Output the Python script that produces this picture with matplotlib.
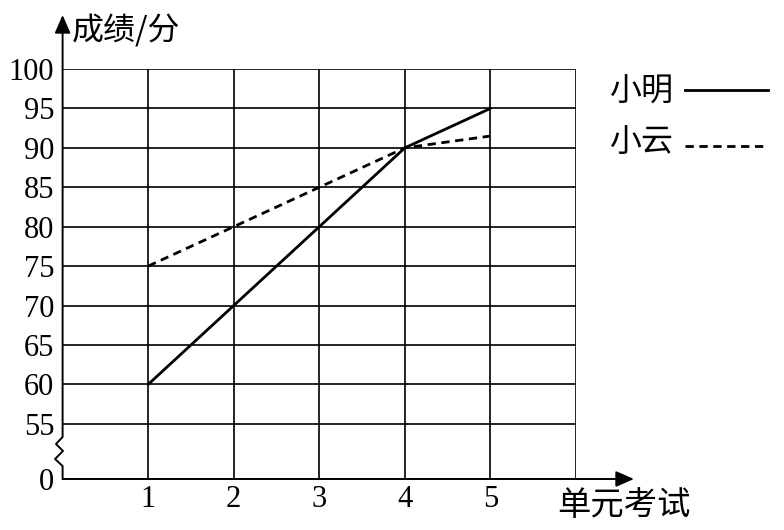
import matplotlib
matplotlib.use("Agg")
import matplotlib.pyplot as plt
from matplotlib.lines import Line2D

# ---- data ----
units = [1, 2, 3, 4, 5]
unit_labels = ["1", "2", "3", "4", "5"]
xiaoming = [60, 70, 80, 90, 95]
xiaoyun = [75, 80, 85, 90, 91.5]
ytick_values = [0, 55, 60, 65, 70, 75, 80, 85, 90, 95, 100]
series_names = ["小明", "小云"]
ylabel_text = "成绩/分"
xlabel_text = "单元考试"

# broken axis: 0 sits a bit below 55
BREAK_BOTTOM = 48.0


def to_plot(v):
    return v if v >= 55 else BREAK_BOTTOM


W, H = 784, 530
fig = plt.figure(figsize=(W / 100, H / 100), dpi=100)
left_px, right_px, bottom_px, top_px = 62.6, 576.0, 479.0, 69.0
ax = fig.add_axes([left_px / W, 1 - bottom_px / H,
                   (right_px - left_px) / W, (bottom_px - top_px) / H])
ax.set_xlim(0, 6)
ax.set_ylim(BREAK_BOTTOM, 100)

serif = ["Liberation Serif", "DejaVu Serif"]
cjk = ["Noto Sans CJK SC", "DejaVu Sans"]
lw_grid = 1.2

# ticks & grid
ax.set_xticks([1, 2, 3, 4, 5, 6])
ax.set_xticklabels(unit_labels + [""], fontfamily=serif, fontsize=22)
ax.set_yticks([to_plot(v) for v in ytick_values])
ax.set_yticklabels([str(v) for v in ytick_values], fontfamily=serif, fontsize=22)
ax.tick_params(length=0, pad=6)
ax.tick_params(axis="x", pad=4)
ax.grid(True, color="black", linewidth=lw_grid)
for s in ax.spines.values():
    s.set_visible(False)

# data lines
ax.plot(units, [to_plot(v) for v in xiaoming], color="black", linewidth=2.0,
        solid_capstyle="round", zorder=3)
ax.plot(units, [to_plot(v) for v in xiaoyun], color="black", linewidth=2.0,
        linestyle=(0, (3.0, 2.0)), zorder=3)


# helpers for pixel -> data
def px2x(px):
    return (px - left_px) / (right_px - left_px) * 6


def py2y(py):
    return 100 - (py - top_px) / (bottom_px - top_px) * (100 - BREAK_BOTTOM)


# y axis with zigzag break
zig_px = [(62.6, 479), (62.6, 466), (55, 459), (63, 451), (56, 444),
          (62.6, 437), (62.6, 28)]
ax.plot([px2x(p[0]) for p in zig_px], [py2y(p[1]) for p in zig_px],
        color="black", linewidth=1.4, clip_on=False, zorder=4)
# x axis
ax.plot([0, px2x(622)], [BREAK_BOTTOM, BREAK_BOTTOM], color="black",
        linewidth=1.4, clip_on=False, zorder=4)
# arrow heads
astyle = "-|>,head_length=0.55,head_width=0.24"
ax.annotate("", xy=(0, py2y(15)), xytext=(0, py2y(32)),
            arrowprops=dict(arrowstyle=astyle, mutation_scale=20,
                            color="black", lw=1.4, shrinkA=0, shrinkB=0),
            annotation_clip=False)
ax.annotate("", xy=(px2x(634), BREAK_BOTTOM), xytext=(px2x(617), BREAK_BOTTOM),
            arrowprops=dict(arrowstyle=astyle, mutation_scale=20,
                            color="black", lw=1.4, shrinkA=0, shrinkB=0),
            annotation_clip=False)

# axis titles
fig.text(72 / W, 1 - 31 / H, ylabel_text, fontfamily=cjk, fontsize=23,
         ha="left", va="center")
fig.text(557 / W, 1 - 506 / H, xlabel_text, fontfamily=cjk, fontsize=24,
         ha="left", va="center")

# legend (text first, then line)
fig.text(609 / W, 1 - 92 / H, series_names[0], fontfamily=cjk, fontsize=23,
         ha="left", va="center")
fig.add_artist(Line2D([685 / W, 768 / W], [1 - 90 / H, 1 - 90 / H],
                      color="black", linewidth=2.0))
fig.text(609 / W, 1 - 142 / H, series_names[1], fontfamily=cjk, fontsize=23,
         ha="left", va="center")
fig.add_artist(Line2D([685 / W, 768 / W], [1 - 146 / H, 1 - 146 / H],
                      color="black", linewidth=2.0, linestyle=(0, (3.0, 2.0))))

fig.savefig("out.png", dpi=100)
